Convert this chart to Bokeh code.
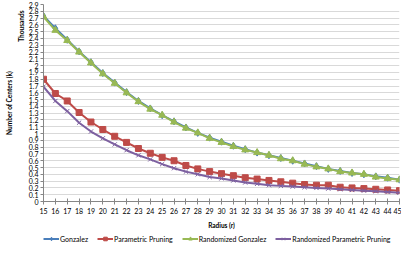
from bokeh.plotting import figure
from bokeh.layouts import column
from bokeh.models import FixedTicker, Legend, LegendItem, Title, Range1d
from bokeh.embed import file_html
from bokeh.resources import INLINE

radius = list(range(15, 46))
gonzalez = [2.73, 2.55, 2.38, 2.21, 2.05, 1.89, 1.75, 1.61, 1.48, 1.37,
            1.27, 1.18, 1.09, 1.01, 0.94, 0.88, 0.82, 0.77, 0.72, 0.68,
            0.64, 0.60, 0.56, 0.52, 0.48, 0.45, 0.42, 0.40, 0.37, 0.35, 0.32]
parametric_pruning = [1.80, 1.59, 1.48, 1.31, 1.17, 1.06, 0.96, 0.87, 0.78, 0.71,
                      0.65, 0.60, 0.53, 0.48, 0.44, 0.41, 0.38, 0.35, 0.33, 0.31,
                      0.29, 0.27, 0.25, 0.24, 0.24, 0.21, 0.20, 0.19, 0.18, 0.17, 0.16]
randomized_gonzalez = [2.72, 2.52, 2.37, 2.20, 2.04, 1.88, 1.74, 1.60, 1.47, 1.36,
                       1.27, 1.17, 1.08, 1.01, 0.93, 0.87, 0.81, 0.76, 0.72, 0.68,
                       0.63, 0.60, 0.55, 0.51, 0.48, 0.44, 0.42, 0.40, 0.36, 0.34, 0.32]
randomized_parametric_pruning = [1.69, 1.48, 1.33, 1.16, 1.03, 0.93, 0.84, 0.755, 0.68, 0.62,
                                 0.55, 0.49, 0.44, 0.40, 0.36, 0.34, 0.31, 0.28, 0.26, 0.24,
                                 0.23, 0.22, 0.21, 0.20, 0.19, 0.18, 0.17, 0.16, 0.15, 0.14, 0.13]
series_names = ["Gonzalez", "Parametric Pruning", "Randomized Gonzalez",
                "Randomized Parametric Pruning"]
y_ticks = [round(i / 10, 1) for i in range(30)]
y_tick_labels = ["0", "0.1", "0.2", "0.3", "0.4", "0.5", "0.6", "0.7", "0.8", "0.9",
                 "1", "1.1", "1.2", "1.3", "1.4", "1.5", "1.6", "1.7", "1.8", "1.9",
                 "2", "2.1", "2.2", "2.3", "2.4", "2.5", "2.6", "2.7", "2.8", "2.9"]

FONT = "Lato"
AXIS = "#868686"
W = 401
LEG_H = 14

p = figure(width=W, height=245 - LEG_H, output_backend="svg", toolbar_location=None,
           x_range=Range1d(15, 45), y_range=Range1d(0, 2.9),
           min_border_left=39, min_border_right=2, min_border_top=4,
           min_border_bottom=28)
p.outline_line_color = None
p.background_fill_color = "white"
p.border_fill_color = "white"
p.xgrid.visible = False
p.ygrid.grid_line_color = "#D9D9D9"
p.ygrid.grid_line_width = 1

p.xaxis.ticker = FixedTicker(ticks=radius)
p.yaxis.ticker = FixedTicker(ticks=y_ticks)
p.yaxis.major_label_overrides = {t: s for t, s in zip(y_ticks, y_tick_labels)}

for ax in (p.xaxis, p.yaxis):
    ax.axis_line_color = AXIS
    ax.major_tick_line_color = AXIS
    ax.minor_tick_line_color = None
    ax.major_label_text_font = FONT
    ax.major_label_text_font_size = "7px"
    ax.major_label_text_color = "#000000"
    ax.axis_label_text_font = FONT
    ax.axis_label_text_font_size = "6.5px"
    ax.axis_label_text_font_style = "bold"
    ax.axis_label_text_color = "#000000"

p.xaxis.major_tick_in = 3
p.xaxis.major_tick_out = 3
p.xaxis.major_label_standoff = 3
p.xaxis.axis_label = "Radius (r)"
p.xaxis.axis_label_standoff = 5
p.yaxis.major_tick_in = 0
p.yaxis.major_tick_out = 3
p.yaxis.major_label_standoff = 2

colors = ["#4A7EBB", "#BE4B48", "#98B954", "#7D60A0"]
markers = ["diamond", "square", "triangle", "x"]
sizes = [7, 6, 7, 6]
data = [gonzalez, parametric_pruning, randomized_gonzalez, randomized_parametric_pruning]

# legend-only strip below the chart (its ranges keep the copies of the series out of view)
lg = figure(width=W, height=LEG_H, output_backend="svg", toolbar_location=None,
            x_range=Range1d(0, 1), y_range=Range1d(0, 1),
            x_axis_type=None, y_axis_type=None,
            min_border_left=0, min_border_right=0, min_border_top=0,
            min_border_bottom=0)
lg.outline_line_color = None
lg.xgrid.visible = False
lg.ygrid.visible = False
lg.background_fill_color = "white"
lg.border_fill_color = "white"

items = []
for name, ys, c, m, s in zip(series_names, data, colors, markers, sizes):
    p.line(radius, ys, line_color=c, line_width=2)
    lr = lg.line(radius, ys, line_color=c, line_width=2)
    if m == "x":
        p.scatter(radius, ys, marker=m, size=s, line_color=c, line_width=1)
        mr = lg.scatter(radius, ys, marker=m, size=s, line_color=c, line_width=1)
    else:
        p.scatter(radius, ys, marker=m, size=s, fill_color=c, line_color=c)
        mr = lg.scatter(radius, ys, marker=m, size=s, fill_color=c, line_color=c)
    items.append(LegendItem(label=name, renderers=[lr, mr]))

legend = Legend(items=items, orientation="horizontal", location=(0, 2),
                label_text_font=FONT, label_text_font_size="7px",
                label_text_color="#000000", glyph_width=16, glyph_height=9,
                label_height=9, label_standoff=1, spacing=9, padding=0,
                margin=0, border_line_color=None, background_fill_alpha=0)
lg.add_layout(legend)

thousands = Title(text="Thousands", align="right", offset=6, standoff=1,
                  text_font=FONT, text_font_size="6.5px", text_font_style="bold",
                  text_color="#000000")
p.add_layout(thousands, "left")
ylabel = Title(text="Number of Centers (k)", align="center", standoff=6,
               text_font=FONT, text_font_size="6.5px", text_font_style="bold",
               text_color="#000000")
p.add_layout(ylabel, "left")

layout = column(p, lg, spacing=0)
open("out.html", "w").write(file_html(layout, INLINE))
